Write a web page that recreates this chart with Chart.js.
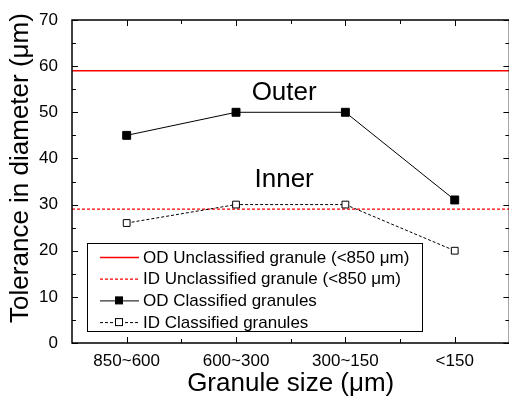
<!DOCTYPE html>
<html>
<head>
<meta charset="utf-8">
<script src="https://cdn.jsdelivr.net/npm/chart.js@4.4.0/dist/chart.umd.min.js"></script>
<style>
  html, body { margin: 0; padding: 0; background: #fff; overflow: hidden; }
  #wrap { width: 516px; height: 403px; }
</style>
</head>
<body>
<div id="wrap"><canvas id="canvas"></canvas></div>
<script>
// data
const categories = ['850~600', '600~300', '300~150', '<150'];
const odClassified = [45, 50, 50, 31];
const idClassified = [26, 30, 30, 20];
const odUnclassified = 59;
const idUnclassified = 29;
const yTicks = [0, 10, 20, 30, 40, 50, 60, 70];
const notes = ['Outer', 'Inner'];
const notePos = [[1.44, 54.2], [1.44, 35.3]];
const yTitle = 'Tolerance in diameter (\u03bcm)';

const FONT = '"Liberation Sans", Arial, sans-serif';

function pts(vals) {
    return vals.map((v, i) => ({ x: i, y: v }));
}

// frame, inward ticks, notes, y title and legend box
const decor = {
    id: 'decor',
    afterDraw(chart) {
        let ctx = chart.ctx;
        let a = chart.chartArea;
        let xs = chart.scales.x, ys = chart.scales.y;
        ctx.save();
        ctx.strokeStyle = '#000';
        ctx.lineWidth = 1.5;
        ctx.strokeRect(a.left, a.top, a.right - a.left, a.bottom - a.top);
        ctx.lineWidth = 1;
        ctx.beginPath();
        for (let v = 0; v <= 3.01; v += 0.5) {
            let px = Math.round(xs.getPixelForValue(v)) + 0.5;
            let len = (v % 1 === 0) ? 6 : 4;
            ctx.moveTo(px, a.bottom); ctx.lineTo(px, a.bottom - len);
            ctx.moveTo(px, a.top); ctx.lineTo(px, a.top + len);
        }
        for (let v = 0; v <= 70; v += 5) {
            let py = Math.round(ys.getPixelForValue(v)) + 0.5;
            let len = (v % 10 === 0) ? 6 : 4;
            ctx.moveTo(a.left, py); ctx.lineTo(a.left + len, py);
            ctx.moveTo(a.right, py); ctx.lineTo(a.right - len, py);
        }
        ctx.stroke();

        // notes
        ctx.fillStyle = '#000';
        ctx.font = '26px ' + FONT;
        ctx.textAlign = 'center';
        ctx.textBaseline = 'middle';
        notes.forEach((t, i) => {
            ctx.fillText(t, xs.getPixelForValue(notePos[i][0]), ys.getPixelForValue(notePos[i][1]));
        });

        // y title
        ctx.save();
        ctx.translate(21, 168);
        ctx.rotate(-Math.PI / 2);
        ctx.fillText(yTitle, 0, 0);
        ctx.restore();

        // legend
        let lx = 87, ly = 243, lw = 335, lh = 88;
        ctx.fillStyle = '#fff';
        ctx.fillRect(lx, ly, lw, lh);
        ctx.lineWidth = 1;
        ctx.strokeStyle = '#000';
        ctx.strokeRect(lx + 0.5, ly + 0.5, lw, lh);
        let order = [2, 3, 0, 1];
        ctx.font = '17px ' + FONT;
        ctx.textAlign = 'left';
        order.forEach((di, row) => {
            let ds = chart.data.datasets[di];
            let y = ly + 14 + row * 21.7;
            ctx.strokeStyle = ds.borderColor;
            ctx.lineWidth = ds.borderWidth;
            ctx.setLineDash(ds.borderDash || []);
            ctx.beginPath();
            ctx.moveTo(100, y + 0.5); ctx.lineTo(139, y + 0.5);
            ctx.stroke();
            ctx.setLineDash([]);
            if (ds.pointRadius > 0) {
                ctx.fillStyle = ds.pointBackgroundColor;
                ctx.strokeStyle = ds.pointBorderColor;
                ctx.lineWidth = 1;
                ctx.fillRect(115.5, y - 3.5, 7, 7);
                ctx.strokeRect(115.5, y - 3.5, 7, 7);
            }
            ctx.fillStyle = '#000';
            ctx.fillText(ds.label, 143, y + 1);
        });
        ctx.restore();
    }
};

let ctx = document.getElementById('canvas').getContext('2d');
let myChart = new Chart(ctx, {
    type: 'line',
    data: {
        datasets: [
            {
                label: 'OD Classified granules',
                data: pts(odClassified),
                borderColor: '#000', borderWidth: 1,
                pointStyle: 'rect', pointRadius: 5.6,
                pointBackgroundColor: '#000', pointBorderColor: '#000',
                order: 1
            },
            {
                label: 'ID Classified granules',
                data: pts(idClassified),
                borderColor: '#000', borderWidth: 1, borderDash: [3, 2],
                pointStyle: 'rect', pointRadius: 4.8,
                pointBackgroundColor: '#fff', pointBorderColor: '#000', pointBorderWidth: 1,
                order: 1
            },
            {
                label: 'OD Unclassified granule (<850 \u03bcm)',
                data: [{ x: -0.5, y: odUnclassified }, { x: 3.5, y: odUnclassified }],
                borderColor: '#ff0000', borderWidth: 1.5, pointRadius: 0,
                order: 2
            },
            {
                label: 'ID Unclassified granule (<850 \u03bcm)',
                data: [{ x: -0.5, y: idUnclassified }, { x: 3.5, y: idUnclassified }],
                borderColor: '#ff0000', borderWidth: 1.2, borderDash: [3, 2], pointRadius: 0,
                order: 2
            }
        ]
    },
    options: {
        responsive: true,
        maintainAspectRatio: false,
        animation: false,
        layout: { padding: { top: 20, right: 1, left: 0, bottom: 0 } },
        plugins: { legend: { display: false }, tooltip: { enabled: false } },
        elements: { line: { tension: 0 } },
        scales: {
            x: {
                type: 'linear', min: -0.5, max: 3.5,
                afterBuildTicks: s => { s.ticks = categories.map((c, i) => ({ value: i })); },
                afterFit: s => { s.height = 60; s.paddingLeft = 0; s.paddingRight = 0; },
                grid: { display: false },
                border: { display: false },
                ticks: {
                    color: '#000', font: { size: 17, family: FONT }, padding: 0,
                    maxRotation: 0, autoSkip: false,
                    callback: v => categories[v]
                },
                title: {
                    display: true, text: 'Granule size (\u03bcm)', color: '#000',
                    font: { size: 26, family: FONT }, padding: { top: 0, bottom: 4 }
                }
            },
            y: {
                min: 0, max: 70,
                afterBuildTicks: s => { s.ticks = yTicks.map(v => ({ value: v })); },
                afterFit: s => { s.width = 72; s.paddingTop = 0; s.paddingBottom = 0; },
                grid: { display: false },
                border: { display: false },
                ticks: { color: '#000', font: { size: 17, family: FONT }, padding: 6 },
                title: { display: false }
            }
        }
    },
    plugins: [decor]
});
</script>
</body>
</html>
